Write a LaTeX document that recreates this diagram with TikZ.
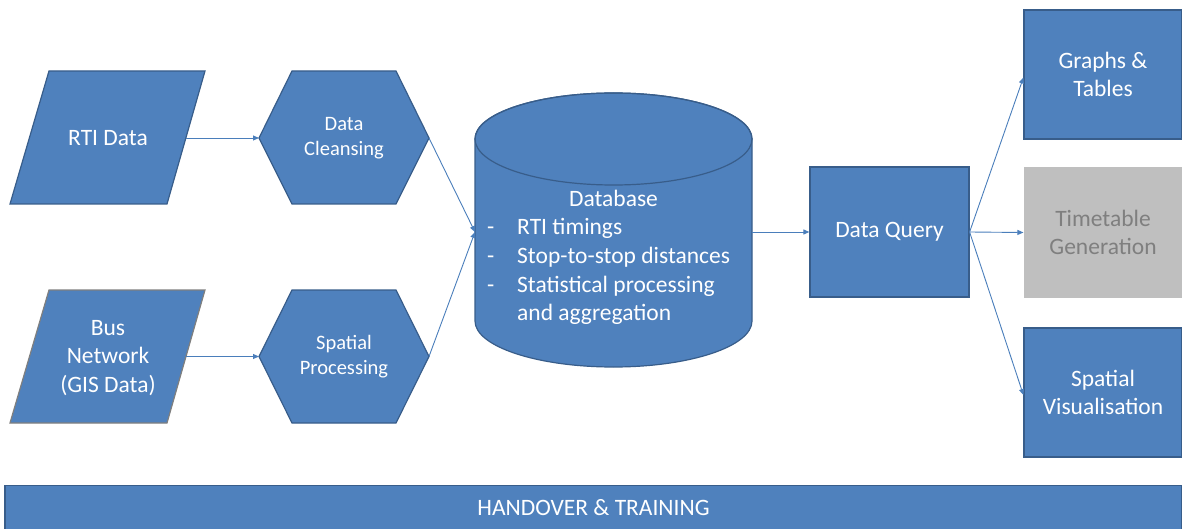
\documentclass[tikz,border=0pt]{standalone}
\usepackage{fontspec}
\setmainfont{Carlito}
\usetikzlibrary{arrows.meta}
\definecolor{boxblue}{HTML}{4F81BD}
\definecolor{edgeblue}{HTML}{385D8A}
\definecolor{arrowblue}{HTML}{4A7EBB}
\definecolor{greybox}{HTML}{BFBFBF}
\definecolor{greytext}{HTML}{7F7F7F}
\definecolor{greyedge}{HTML}{7F7F7F}
\begin{document}
\begin{tikzpicture}[x=1pt,y=-1pt,
  shapefill/.style={fill=boxblue, draw=edgeblue, line width=1.2pt, line join=miter},
  rectbox/.style={shapefill, rectangle, inner sep=0pt, text=white, align=center,
    font=\fontsize{23.5}{28.5}\selectfont},
  lbl/.style={text=white, align=center, inner sep=0pt, font=\fontsize{23.5}{28.5}\selectfont},
  smalllbl/.style={text=white, align=center, inner sep=0pt, font=\fontsize{20.5}{25}\selectfont},
  dblbl/.style={text=white, inner sep=0pt, anchor=base west, font=\fontsize{23.5}{28.5}\selectfont},
  conn/.style={draw=arrowblue, line width=0.9pt, -{Triangle[length=6pt,width=5pt]}}
]
\useasboundingbox (0,0) rectangle (1182,529);

% --- inputs (parallelograms)
\path[shapefill] (49,71) -- (205,71) -- (167,204) -- (10,204) -- cycle;
\node[lbl] (rti) at (108,138) {RTI Data};
\coordinate (rtiR) at (186,138);

\path[shapefill, draw=greyedge] (49,290) -- (205,290) -- (167,423) -- (10,423) -- cycle;
\node[lbl] (bus) at (108,358) {Bus\\Network\\(GIS Data)};
\coordinate (busR) at (186,356.5);

% --- hexagons
\path[shapefill] (259,138) -- (292,71) -- (396,71) -- (429,138) -- (396,204) -- (292,204) -- cycle;
\node[smalllbl] (clean) at (344,138) {Data\\Cleansing};
\coordinate (cleanL) at (259,138);
\coordinate (cleanR) at (429,138);

\path[shapefill] (259,356.5) -- (292,290) -- (396,290) -- (429,356.5) -- (396,423) -- (292,423) -- cycle;
\node[smalllbl] (spatial) at (344,357) {Spatial\\Processing};
\coordinate (spatialL) at (259,356.5);
\coordinate (spatialR) at (429,356.5);

% --- database cylinder
\path[shapefill] (475,139) -- (475,321) arc[start angle=180, end angle=360, x radius=138.5pt, y radius=46pt]
  -- (752,139) arc[start angle=0, end angle=180, x radius=138.5pt, y radius=46pt] -- cycle;
\draw[edgeblue, line width=1.2pt] (613.5,139) ellipse[x radius=138.5pt, y radius=46pt];
\coordinate (dbL) at (475,232);
\coordinate (dbR) at (752,232);
\node[text=white, inner sep=0pt, anchor=base, font=\fontsize{23.5}{28.5}\selectfont] (dbtitle) at (613.5,207) {Database};
\node[dblbl] (d1) at (487,235) {-};
\node[dblbl] (t1) at (517,235) {RTI timings};
\node[dblbl] (d2) at (487,263.5) {-};
\node[dblbl] (t2) at (517,263.5) {Stop-to-stop distances};
\node[dblbl] (d3) at (487,292) {-};
\node[dblbl] (t3) at (517,292) {Statistical processing};
\node[dblbl] (t4) at (517,320) {and aggregation};

% --- query and outputs
\node[rectbox, minimum width=159pt, minimum height=130pt] (dq) at (889.5,232) {Data Query};
\node[rectbox, minimum width=158pt, minimum height=129pt] (gt) at (1103,74.5) {Graphs \&\\Tables};
\node[rectbox, fill=greybox, draw=none, text=greytext, minimum width=158pt, minimum height=131pt] (tg) at (1103,232.5) {Timetable\\Generation};
\node[rectbox, minimum width=158pt, minimum height=129pt] (sv) at (1103,392.5) {Spatial\\Visualisation};

% --- bottom bar
\node[rectbox, minimum width=1177pt, minimum height=44pt] (ht) at (593.5,507.5) {HANDOVER \& TRAINING};

% --- connectors
\draw[conn] (rtiR) -- (cleanL);
\draw[conn] (busR) -- (spatialL);
\draw[conn] (cleanR) -- (dbL);
\draw[conn] (spatialR) -- (dbL);
\draw[conn] (dbR) -- (dq.west);
\draw[conn] (dq.east) -- ([yshift=-3pt]gt.west);
\draw[conn] (dq.east) -- (tg.west);
\draw[conn] (dq.east) -- ([yshift=-2.5pt]sv.west);
\end{tikzpicture}
\end{document}
